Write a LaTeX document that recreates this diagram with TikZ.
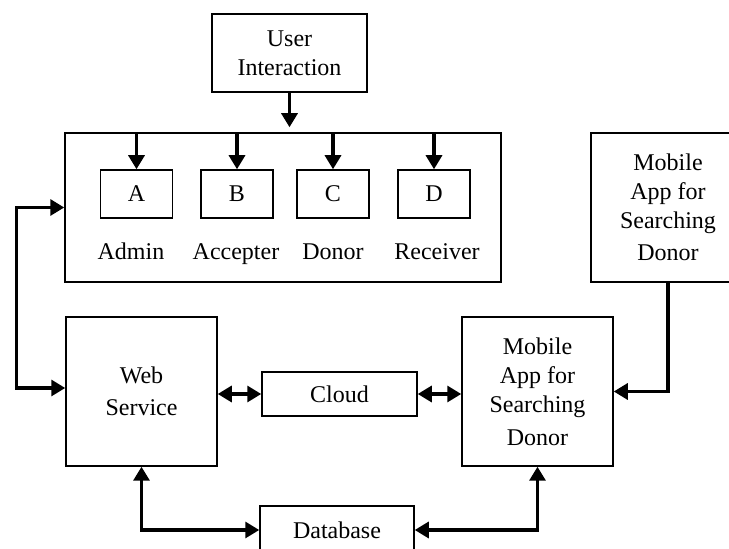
\documentclass[tikz,border=0pt]{standalone}
\usepackage{fontspec}
\setmainfont{Liberation Serif}
\usetikzlibrary{arrows.meta}
\tikzset{
  box/.style={draw,line width=.75pt,align=center,inner sep=0pt},
  lbl/.style={anchor=base},
  conn/.style={line width=1.6pt,-{Triangle[length=7pt,width=8pt]}},
  dconn/.style={line width=1.6pt,{Triangle[length=7pt,width=8pt]}-{Triangle[length=7pt,width=8pt]}}
}
\begin{document}
\begin{tikzpicture}[x=.5pt,y=-.5pt,font=\fontsize{12}{14.5}\selectfont]
\useasboundingbox (0,0) rectangle (729,549);
\node[box,minimum width=77.5pt,minimum height=39pt] (user) at (289.5,53) {User\\Interaction};
\node[box,minimum width=218pt,minimum height=74.5pt] (users) at (283,207.5) {};
\node[box,minimum width=36pt,minimum height=24pt] (a) at (136.5,194) {A};
\node[box,minimum width=36pt,minimum height=24pt] (b) at (237,194) {B};
\node[box,minimum width=36pt,minimum height=24pt] (c) at (333,194) {C};
\node[box,minimum width=36pt,minimum height=24pt] (d) at (434,194) {D};
\node[lbl] (admin) at (131,260) {Admin};
\node[lbl] (accepter) at (236,260) {Accepter};
\node[lbl] (donor) at (333,260) {Donor};
\node[lbl] (receiver) at (437,260) {Receiver};
\node[box,minimum width=77pt,minimum height=74.5pt,text depth=-6pt] (mobtop) at (668,207.5) {Mobile\\App for\\Searching\\[1.5pt]Donor};
\node[box,minimum width=75.5pt,minimum height=74.5pt,text depth=-5pt] (web) at (141.5,391.5) {Web\\[1.5pt]Service};
\node[box,minimum width=77.5pt,minimum height=22pt] (cloud) at (339.5,394) {Cloud};
\node[box,minimum width=75.5pt,minimum height=74.5pt,text depth=-6pt] (mobile) at (537.5,391.5) {Mobile\\App for\\Searching\\[2pt]Donor};
\node[box,minimum width=77pt,minimum height=24pt] (db) at (337,530) {Database};
\draw[conn,shorten >=2.5pt] (user.south) -- (user.south |- users.north);
\foreach \n in {a,b,c,d}
  \draw[conn] (users.north -| \n.north) -- (\n.north);
\draw[dconn] ([yshift=1.75pt]web.west) -- ++(-49,0) |- (users.west);
\draw[dconn] (web.east |- cloud.west) -- (cloud.west);
\draw[dconn] (cloud.east) -- (mobile.west |- cloud.east);
\draw[conn] (mobtop.south) |- (mobile.east);
\draw[dconn] (web.south) |- (db.west);
\draw[dconn] (mobile.south) |- (db.east);
\end{tikzpicture}
\end{document}
